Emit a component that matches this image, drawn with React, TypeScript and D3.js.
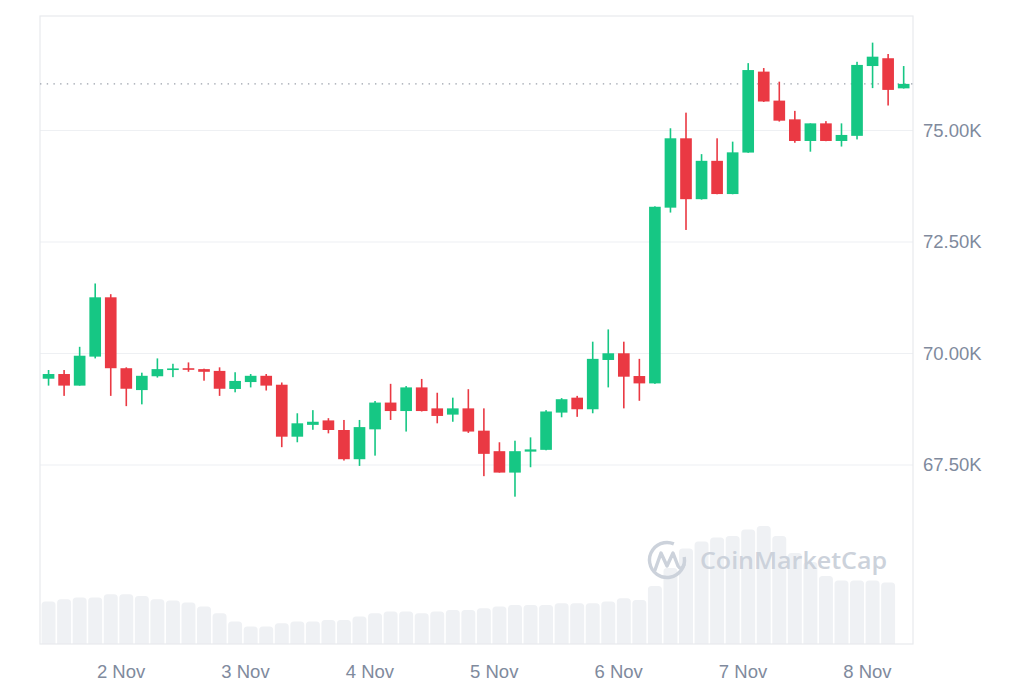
import React from "react";
import * as d3 from "d3";

// ---- Data (BTC/USD, 3h candles, 1–8 Nov) ----
const opens = [
  69435, 69540, 69280, 69930, 71260, 69670, 69180, 69490, 69640, 69670,
  69650, 69610, 69205, 69360, 69500, 69300, 68135, 68400, 68500, 68285,
  67630, 68300, 68900, 68710, 69240, 68770, 68630, 68770, 68270, 67810,
  67330, 67800, 67840, 68675, 69010, 68750, 69855, 70005, 69495, 69330,
  73270, 74825, 73460, 74320, 73575, 74505, 76320, 75670, 75250, 74765,
  75160, 74765, 74880, 76445, 76620, 75945,
];
const highs = [
  69630, 69630, 70150, 71570, 71330, 69690, 69570, 69890, 69770, 69800,
  69660, 69690, 69580, 69540, 69540, 69350, 68660, 68730, 68550, 68510,
  68510, 68935, 69320, 69270, 69430, 69120, 69010, 69200, 68770, 68010,
  68045, 68120, 68730, 69000, 69050, 70265, 70540, 70265, 69880, 73300,
  75050, 75400, 74470, 74825, 74750, 76510, 76400, 76095, 75440, 75160,
  75210, 75160, 76540, 76970, 76715, 76445,
];
const lows = [
  69280, 69050, 69280, 69890, 69050, 68820, 68860, 69460, 69470, 69590,
  69390, 69050, 69130, 69240, 69170, 67900, 68010, 68290, 68210, 67600,
  67480, 67710, 68510, 68250, 68700, 68435, 68470, 68220, 67250, 67330,
  66790, 67450, 67830, 68570, 68580, 68660, 69240, 68770, 68940, 69320,
  73160, 72770, 73450, 73570, 73570, 74500, 75640, 75200, 74725, 74525,
  74760, 74640, 74800, 75950, 75560, 75940,
];
const closes = [
  69540, 69280, 69950, 71260, 69670, 69210, 69500, 69650, 69665, 69645,
  69590, 69210, 69385, 69500, 69280, 68135, 68435, 68470, 68285, 67630,
  68350, 68900, 68710, 69240, 68710, 68600, 68770, 68250, 67750, 67330,
  67810, 67850, 68700, 68975, 68750, 69880, 70005, 69480, 69330, 73290,
  74825, 73460, 74320, 73575, 74510, 76355, 75650, 75220, 74765, 75160,
  74765, 74900, 76470, 76655, 75910, 76045,
];
// volume (billions, approx.)
const volumes = [
  2.12, 2.24, 2.32, 2.32, 2.49, 2.49, 2.4, 2.24, 2.17, 2.07,
  1.87, 1.54, 1.12, 0.87, 0.87, 1.04, 1.12, 1.12, 1.2, 1.2,
  1.37, 1.54, 1.62, 1.62, 1.54, 1.62, 1.7, 1.7, 1.79, 1.87,
  1.95, 1.95, 1.95, 2.04, 2.04, 2.04, 2.12, 2.29, 2.2, 2.9,
  3.8, 4.78, 5.12, 5.33, 5.4, 5.73, 5.9, 5.4, 4.55, 4.1,
  3.4, 3.17, 3.17, 3.17, 3.07,
];
const priceTicks = [67500, 70000, 72500, 75000];
const dayTicks = [2, 3, 4, 5, 6, 7, 8];

const STEP = 3 * 3600 * 1000;
const START = Date.UTC(2024, 10, 1, 10, 0);
const times = closes.map((_, i) => new Date(START + i * STEP));

const W = 1024;
const H = 683;
const plot = { left: 40, right: 913, top: 16, bottom: 644 };

const GREEN = "#16c784";
const RED = "#ea3943";
const GRAY_TEXT = "#808a9d";
const WM = "#ccd2db";

function topRounded(x: number, y: number, w: number, h: number, r: number) {
  const rr = Math.min(r, h, w / 2);
  return `M${x},${y + h}V${y + rr}Q${x},${y} ${x + rr},${y}H${x + w - rr}Q${x + w},${y} ${x + w},${y + rr}V${y + h}Z`;
}

export default function App() {
  const x = d3
    .scaleTime()
    .domain([
      new Date(times[0].getTime() - 0.55 * STEP),
      new Date(times[times.length - 1].getTime() + 0.6 * STEP),
    ])
    .range([plot.left, plot.right]);
  const y = d3.scaleLinear().domain([63487, 77567]).range([plot.bottom, plot.top]);
  const yVol = d3.scaleLinear().domain([0, 7.5]).range([plot.bottom, plot.bottom - 150]);

  const step = x(times[1]) - x(times[0]);
  const bodyW = step * 0.75;
  const volW = step - 1.6;
  const fmtPrice = (v: number) => d3.format(".2f")(v / 1000) + "K";
  const fmtDay = d3.utcFormat("%-d %b");
  const last = closes[closes.length - 1];

  return (
    <svg
      width={W}
      height={H}
      style={{ position: "absolute", left: 0, top: 0, display: "block", background: "#fff" }}
      fontFamily="'Liberation Sans', Arial, Helvetica, sans-serif"
    >
      {/* grid */}
      {priceTicks.map((t) => (
        <line key={t} x1={plot.left} x2={plot.right} y1={y(t)} y2={y(t)} stroke="#eef0f3" strokeWidth={1.2} />
      ))}
      {/* volume */}
      {volumes.map((v, i) => {
        const cx = x(times[i]);
        const top = yVol(v);
        return (
          <path key={i} d={topRounded(cx - volW / 2, top, volW, plot.bottom - top, 3.5)} fill="#eff1f4" />
        );
      })}
      {/* watermark */}
      <g>
        <circle cx={667} cy={560} r={17.5} fill="none" stroke={WM} strokeWidth={3.4} strokeDasharray="92 18" transform="rotate(-10 667 560)" />
        <path
          d="M655,570 L661,553 L667,566 L673,553 L678,566 Q681,571 684,565"
          fill="none"
          stroke={WM}
          strokeWidth={3.4}
          strokeLinecap="round"
          strokeLinejoin="round"
        />
        <text x={700} y={569} fontSize={24} fontWeight={600} fontFamily="'Open Sans', 'Noto Sans', sans-serif" fill={WM} textLength={187} lengthAdjust="spacingAndGlyphs">
          CoinMarketCap
        </text>
      </g>
      {/* border */}
      <rect x={plot.left} y={plot.top} width={plot.right - plot.left} height={plot.bottom - plot.top} fill="none" stroke="#e8eaed" strokeWidth={1.2} />
      {/* last price dotted line */}
      <line
        x1={plot.left}
        x2={plot.right}
        y1={y(last)}
        y2={y(last)}
        stroke="#9aa0aa"
        strokeWidth={1.4}
        strokeDasharray="1.4 5.3"
      />
      {/* candles */}
      {closes.map((c, i) => {
        const o = opens[i];
        const up = c >= o;
        const col = up ? GREEN : RED;
        const cx = x(times[i]);
        const yTop = y(Math.max(o, c));
        const yBot = y(Math.min(o, c));
        const bh = Math.max(yBot - yTop, 1.6);
        return (
          <g key={i}>
            <rect x={cx - 0.8} y={y(highs[i])} width={1.6} height={y(lows[i]) - y(highs[i])} fill={col} />
            <rect x={cx - bodyW / 2} y={yTop} width={bodyW} height={bh} fill={col} />
          </g>
        );
      })}
      {/* y axis labels */}
      {priceTicks.map((t) => (
        <text key={t} x={923} y={y(t)} dy="0.35em" fontSize={18.5} fill={GRAY_TEXT}>
          {fmtPrice(t)}
        </text>
      ))}
      {/* x axis labels */}
      {dayTicks.map((d) => {
        const dt = new Date(Date.UTC(2024, 10, d));
        return (
          <text key={d} x={x(dt)} y={678} textAnchor="middle" fontSize={18.5} fill={GRAY_TEXT}>
            {fmtDay(dt)}
          </text>
        );
      })}
    </svg>
  );
}
